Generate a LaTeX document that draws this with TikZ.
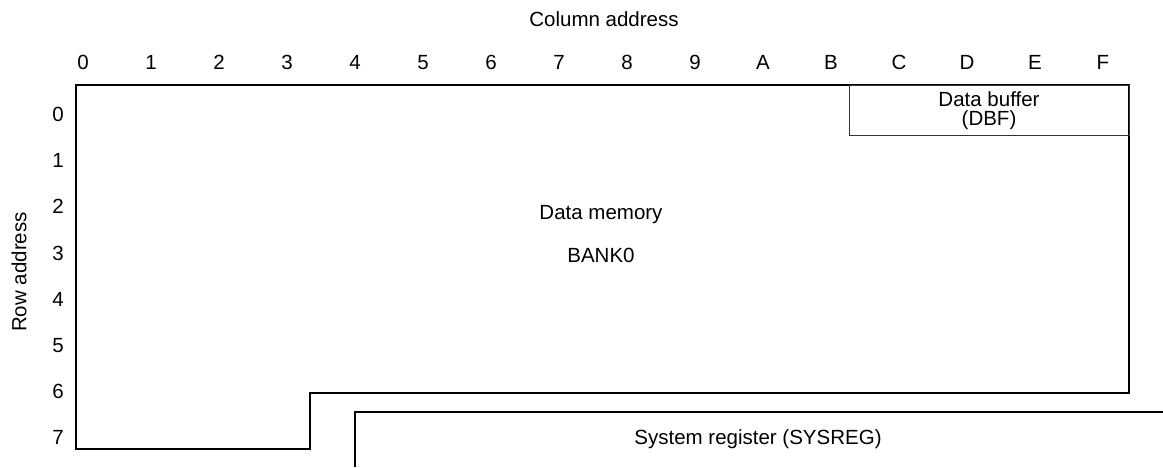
\documentclass[tikz,border=0pt]{standalone}
\usepackage{fontspec}
\setmainfont{Liberation Sans}
\usetikzlibrary{positioning}

\begin{document}
\begin{tikzpicture}[line cap=butt,line join=miter,x=1pt,y=-1pt,
  lbl/.style={inner sep=0pt,anchor=base,font=\fontsize{20.5}{18}\selectfont},
  wall/.style={line width=2pt,color=black},
  thin/.style={line width=1pt,color=black!80}]
\useasboundingbox (0,0) rectangle (1163,467);

%sarakkeet
\node[lbl] (coladdr) at (604,26) {Column address};
\foreach \c [count=\i from 0] in {0,1,2,3,4,5,6,7,8,9,A,B,C,D,E,F}
{
\node[lbl] (col\c) at (83+68*\i,69) {\c};
}

%rivit
\node[lbl,rotate=90,anchor=center] (rowaddr) at (19,272) {Row address};
\foreach \r in {0,...,7}
{
\node[lbl] (row\r) at (58,121.4+46.2*\r) {\r};
}

%muistialue
\draw[wall] (76,85) -- (1129,85) -- (1129,393) -- (310,393) -- (310,449) -- (76,449) -- cycle;
\node[lbl] (datamem) at (601,219) {Data memory};
\node[lbl] (bank) at (601,262) {BANK0};

%DBF
\draw[thin] (849,85) rectangle (1129,135);
\node[lbl] (dbf1) at (989,106) {Data buffer};
\node[lbl] (dbf2) at (989,125) {(DBF)};

%SYSREG
\draw[wall] (355,467) -- (355,412) -- (1163,412);
\node[lbl] (sysreg) at (758,444) {System register (SYSREG)};
\end{tikzpicture}
\end{document}
